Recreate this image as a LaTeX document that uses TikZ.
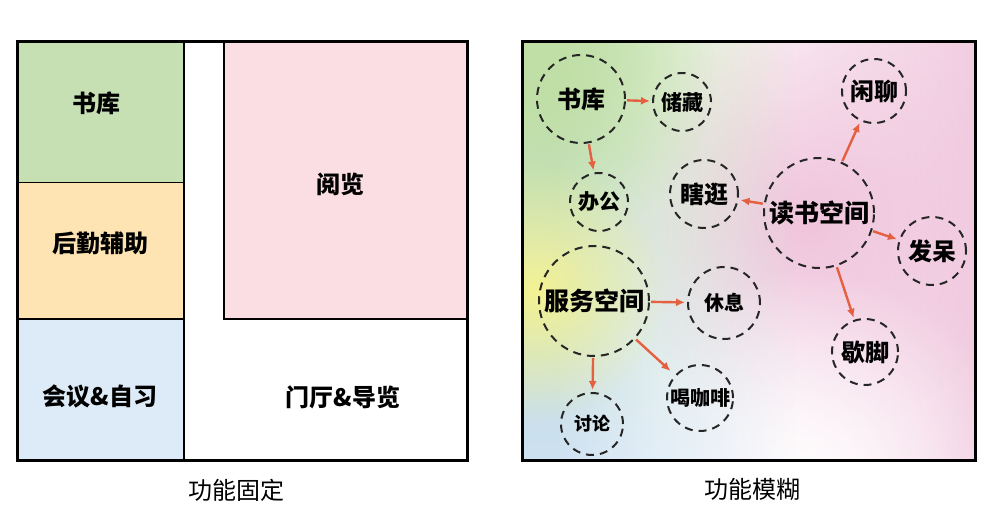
\documentclass[tikz,border=0pt]{standalone}
\usepackage{fontspec}
\newfontfamily\cjk{Noto Sans CJK SC}
\newfontfamily\cjkheavy{Noto Sans CJK SC Black}
\usetikzlibrary{arrows.meta,fadings}

\definecolor{stackgreen}{RGB}{198,224,180}
\definecolor{serveorange}{RGB}{253,228,178}
\definecolor{meetblue}{RGB}{221,234,247}
\definecolor{readpink}{RGB}{250,222,227}
\definecolor{linkred}{RGB}{228,96,64}
\definecolor{blobgreen}{RGB}{192,223,166}
\definecolor{blobyellow}{RGB}{244,242,146}
\definecolor{blobblue}{RGB}{204,224,242}
\definecolor{blobpink}{RGB}{240,196,220}

\tikzfading[name=blob fade, inner color=transparent!0, outer color=transparent!100]

\tikzset{
    zone/.style={draw=black, line width=1.5pt, inner sep=0pt, anchor=north west},
    zonetext/.style={font=\cjkheavy\fontsize{24}{24}\selectfont},
    caption/.style={font=\cjk\fontsize{24}{24}\selectfont},
    bubble/.style={circle, draw=black!85, line width=2pt, dash pattern=on 8pt off 6pt,
        inner sep=0pt, font=\cjkheavy\fontsize{#1}{#1}\selectfont},
    bubble/.default=24,
    link/.style={-{Latex[length=9pt,width=8pt]}, draw=linkred, line width=2.4pt,
        shorten >=2pt, shorten <=1pt},
    leftwash/.style={top color=blobgreen, middle color=blobyellow, bottom color=blobblue}
}

\begin{document}
\begin{tikzpicture}[x=1pt,y=-1pt]
    \useasboundingbox (0,0) rectangle (984,529);

    % fixed layout
    \node[zone, fill=stackgreen, minimum width=166, minimum height=140] (lib) at (17,42) {};
    \node[zone, fill=serveorange, minimum width=166, minimum height=136] (aux) at (17,182) {};
    \node[zone, fill=meetblue, minimum width=166, minimum height=142] (meet) at (17,318) {};
    \node[zone, fill=readpink, minimum width=244, minimum height=276] (read) at (223,42) {};
    \node[zone, draw=none, minimum width=244, minimum height=142] (hall) at (223,318) {};
    \draw[line width=3pt] (17,42) rectangle (467,460);
    \node[zonetext] (libtxt) at (96,103) {书库};
    \node[zonetext] (auxtxt) at (100,243) {后勤辅助};
    \node[zonetext] (meettxt) at (100,396) {会议\&自习};
    \node[zonetext] (readtxt) at (340,184) {阅览};
    \node[zonetext] (halltxt) at (343,397) {门厅\&导览};

    % blurred layout
    \begin{scope}
        \clip (522,42) rectangle (975,460);
        \fill[white] (522,42) rectangle (975,460);
        \fill[blobpink!85, path fading=west] (660,42) rectangle (975,460);
        \fill[blobpink, path fading=blob fade] (810,225) circle (210);
        \fill[white, path fading=blob fade] (800,500) circle (230);
        \shade[leftwash] (522,42) rectangle (560,460);
        \shade[leftwash, path fading=east] (545,42) rectangle (795,460);
        \fill[blobgreen, path fading=blob fade] (545,75) circle (170);
        \fill[blobyellow, path fading=blob fade] (535,290) circle (130);
    \end{scope}
    \draw[line width=3pt] (522,42) rectangle (975,460);

    \node[bubble, minimum size=88] (stack) at (581,99) {书库};
    \node[bubble=21, minimum size=58] (store) at (682,102) {储藏};
    \node[bubble=21, minimum size=58] (office) at (599,202) {办公};
    \node[bubble, minimum size=68] (stroll) at (704,194) {瞎逛};
    \node[bubble=25, minimum size=110] (reading) at (819,213) {读书空间};
    \node[bubble, minimum size=64] (chat) at (874,91) {闲聊};
    \node[bubble, minimum size=68] (daze) at (932,251) {发呆};
    \node[bubble, minimum size=66] (rest) at (865,352) {歇脚};
    \node[bubble=25, minimum size=110] (service) at (594,301) {服务空间};
    \node[bubble=20, minimum size=72] (relax) at (724,303) {休息};
    \node[bubble=20, minimum size=66] (coffee) at (700,398) {喝咖啡};
    \node[bubble=18, minimum size=62] (talk) at (592,424) {讨论};

    \draw[link] (stack) -- (store);
    \draw[link] (stack) -- (office);
    \draw[link] (reading) -- (stroll);
    \draw[link] (reading) -- (chat);
    \draw[link] (reading) -- (daze);
    \draw[link] (reading) -- (rest);
    \draw[link] (service) -- (relax);
    \draw[link, shorten >=6pt] (service) -- (coffee);
    \draw[link] (service) -- (talk);

    \node[caption] (fixcap) at (236,490) {功能固定};
    \node[caption] (blurcap) at (752,489) {功能模糊};
\end{tikzpicture}
\end{document}
